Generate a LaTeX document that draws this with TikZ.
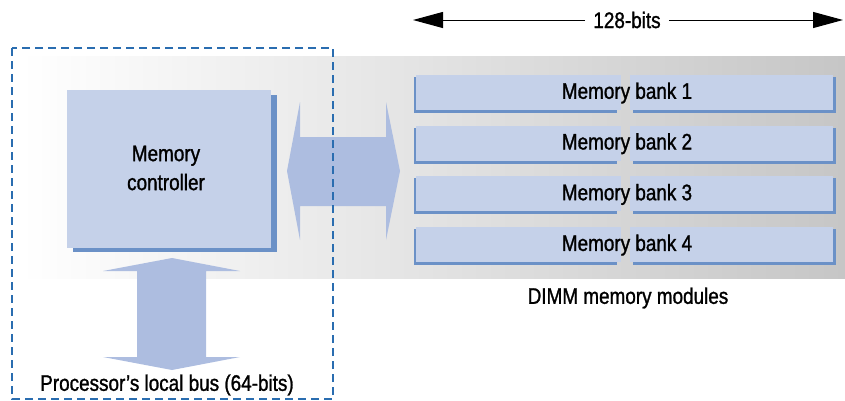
\documentclass[tikz,border=0pt]{standalone}
\usepackage{fontspec}
\setmainfont{Liberation Sans}[FakeStretch=0.84, FakeBold=1.2]
\usetikzlibrary{arrows.meta}
\definecolor{boxfill}{HTML}{C5D1E9}
\definecolor{boxshade}{HTML}{6B91C7}
\definecolor{busfill}{HTML}{ADBDE0}
\definecolor{dashblue}{HTML}{2A6DB0}
\definecolor{panelgray}{HTML}{C6C6C6}

\begin{document}
\begin{tikzpicture}[x=1pt,y=-1pt,
  lbl/.style={font=\fontsize{22.5}{29}\selectfont, inner sep=0pt, text=black},
  shadefill/.style={fill=boxshade},
  lightfill/.style={fill=boxfill},
  bus/.style={fill=busfill},
  widthline/.style={line width=1pt, -{Triangle[length=30pt,width=16pt]}}]
\useasboundingbox (0,0) rectangle (845,400);

% grey panel behind the memory system
\shade[left color=white, right color=panelgray] (20,56) rectangle (845,278);

% memory controller block with its drop shadow
\fill[shadefill] (73,95) rectangle (277,252);
\fill[lightfill] (67,90) rectangle (271,248);
\node[lbl, align=center] (ctrl) at (166,168) {Memory\\controller};

% wide bus between controller and the modules
\fill[bus] (287,171) -- (300,102) -- (300,137) -- (386,137) -- (386,102)
  -- (400,171) -- (386,240) -- (386,206) -- (300,206) -- (300,240) -- cycle;

% processor bus below the controller
\fill[bus] (172,258) -- (240,271) -- (206,271) -- (206,357) -- (240,357)
  -- (172,370) -- (103,357) -- (137,357) -- (137,271) -- (103,271) -- cycle;

% four memory banks, each built from two halves
\foreach \i in {1,...,4}{
  \pgfmathsetmacro{\t}{75+(\i-1)*50.7}
  \fill[shadefill] (414,\t+2) rectangle (617,\t+38);
  \fill[lightfill] (416,\t) rectangle (621,\t+35);
  \fill[shadefill] (633,\t+2) rectangle (836,\t+38);
  \fill[lightfill] (630,\t) rectangle (833,\t+35);
  \node[lbl] (bank\i) at (627,\t+18) {Memory bank \i};
}

\node[lbl] (dimm) at (628,298) {DIMM memory modules};

% 128-bit width marker
\node[lbl, inner xsep=8pt] (bits) at (627,20) {128-bits};
\coordinate (lt) at (413,20);
\coordinate (rt) at (843,20);
\draw[widthline] (bits) -- (lt);
\draw[widthline] (bits) -- (rt);

% processor side boundary
\draw[dashblue, line width=1.5pt, dash pattern=on 8pt off 5pt] (12,48) rectangle (333,399);
\node[lbl] (cpubus) at (167,385) {Processor’s local bus (64-bits)};
\end{tikzpicture}
\end{document}
